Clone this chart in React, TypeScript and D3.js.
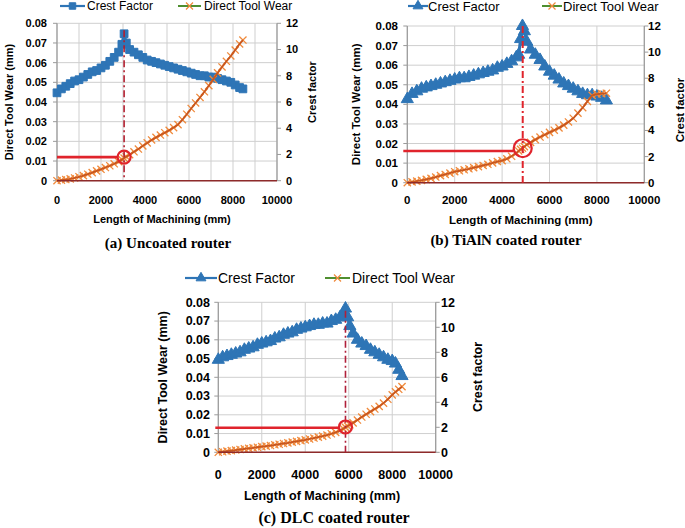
import React, { useEffect, useRef } from "react";
import * as d3 from "d3";

// (a) Uncoated router
const lengthA = [0, 200, 400, 600, 800, 1000, 1200, 1400, 1600, 1800, 2000, 2200, 2400, 2600, 2800, 2950, 3050, 3150, 3300, 3500, 3700, 3900, 4100, 4300, 4500, 4700, 4900, 5100, 5300, 5500, 5700, 5900, 6100, 6300, 6500, 6700, 6900, 7100, 7300, 7500, 7700, 7900, 8100, 8300, 8450];
const crestA = [6.7, 7.0, 7.2, 7.4, 7.6, 7.7, 7.9, 8.1, 8.3, 8.4, 8.6, 8.8, 9.1, 9.4, 9.8, 10.4, 11.2, 10.5, 10.0, 9.8, 9.6, 9.4, 9.2, 9.1, 9.0, 8.9, 8.8, 8.7, 8.6, 8.5, 8.4, 8.3, 8.2, 8.1, 8.0, 8.0, 7.9, 7.9, 7.8, 7.7, 7.6, 7.5, 7.3, 7.1, 7.0];
const wearA = [0, 0.0003, 0.0006, 0.0009, 0.0014, 0.002, 0.0026, 0.0033, 0.0041, 0.005, 0.0058, 0.0067, 0.0076, 0.0086, 0.0097, 0.0107, 0.0115, 0.0122, 0.0132, 0.0147, 0.0161, 0.0177, 0.0192, 0.0207, 0.022, 0.0232, 0.0244, 0.0256, 0.027, 0.0285, 0.031, 0.0338, 0.0367, 0.0395, 0.0423, 0.0452, 0.0483, 0.0515, 0.0548, 0.0578, 0.0607, 0.0634, 0.0664, 0.0695, 0.0715];

// (b) TiAlN coated router
const lengthB = [0, 200, 400, 600, 800, 1000, 1200, 1400, 1600, 1800, 2000, 2200, 2400, 2600, 2800, 3000, 3200, 3400, 3600, 3800, 4000, 4200, 4400, 4600, 4700, 4780, 4860, 4940, 5040, 5200, 5400, 5600, 5800, 6000, 6200, 6400, 6600, 6800, 7000, 7200, 7400, 7600, 7800, 8000, 8200, 8400];
const crestB = [6.4, 6.8, 7.0, 7.2, 7.3, 7.4, 7.5, 7.6, 7.7, 7.8, 7.9, 8.0, 8.0, 8.1, 8.2, 8.3, 8.4, 8.5, 8.6, 8.8, 8.9, 9.1, 9.3, 9.6, 9.8, 11.0, 12.0, 11.6, 10.8, 10.2, 9.8, 9.4, 8.9, 8.5, 8.2, 7.9, 7.6, 7.4, 7.2, 7.0, 6.8, 6.7, 6.7, 6.6, 6.5, 6.3];
const wearB = [0, 0.0004, 0.0008, 0.0012, 0.0017, 0.0022, 0.0029, 0.0036, 0.0042, 0.0049, 0.0056, 0.0061, 0.0066, 0.0071, 0.0077, 0.0082, 0.0088, 0.0094, 0.0101, 0.0108, 0.0113, 0.0122, 0.0135, 0.0152, 0.0162, 0.017, 0.0176, 0.0184, 0.0194, 0.0206, 0.022, 0.0233, 0.0245, 0.0257, 0.0268, 0.028, 0.0294, 0.031, 0.0329, 0.0355, 0.0383, 0.0415, 0.0446, 0.0452, 0.0455, 0.0457];

// (c) DLC coated router
const lengthC = [0, 200, 400, 600, 800, 1000, 1200, 1400, 1600, 1800, 2000, 2200, 2400, 2600, 2800, 3000, 3200, 3400, 3600, 3800, 4000, 4200, 4400, 4600, 4800, 5000, 5200, 5400, 5600, 5750, 5850, 5950, 6050, 6200, 6400, 6600, 6800, 7000, 7200, 7400, 7600, 7800, 8000, 8150, 8300, 8450];
const crestC = [7.4, 7.6, 7.7, 7.8, 7.9, 8.0, 8.2, 8.3, 8.4, 8.6, 8.7, 8.8, 8.9, 9.1, 9.2, 9.4, 9.5, 9.6, 9.8, 9.9, 10.0, 10.1, 10.2, 10.2, 10.3, 10.3, 10.5, 10.6, 10.8, 11.1, 11.5, 10.8, 10.1, 9.5, 9.0, 8.7, 8.5, 8.2, 8.0, 7.8, 7.6, 7.4, 7.3, 7.1, 6.6, 6.1];
const wearC = [0, 0.0003, 0.0006, 0.0009, 0.0012, 0.0015, 0.0018, 0.0021, 0.0024, 0.0027, 0.003, 0.0033, 0.0036, 0.004, 0.0043, 0.0047, 0.005, 0.0054, 0.0058, 0.0062, 0.0066, 0.0071, 0.0076, 0.0081, 0.0086, 0.0092, 0.0099, 0.0106, 0.0116, 0.0126, 0.0133, 0.014, 0.0147, 0.0157, 0.0172, 0.0188, 0.0203, 0.0217, 0.0231, 0.0245, 0.0262, 0.0283, 0.0306, 0.0322, 0.0336, 0.035];

// onset of rapid wear, marked on each panel
const refLength = [3050, 4870, 5850];
const refWear = [0.012, 0.0176, 0.0135];
const refLineWear = [0.012, 0.0162, 0.0131];
const refTop = [0.0765, 0.08, 0.0755];

const wearTicks = [0, 0.01, 0.02, 0.03, 0.04, 0.05, 0.06, 0.07, 0.08];
const crestTicks = [0, 2, 4, 6, 8, 10, 12];
const lengthTicks = [0, 2000, 4000, 6000, 8000, 10000];
const captions = ["(a) Uncoated router", "(b) TiAlN coated router", "(c) DLC coated router"];
const seriesNames = ["Crest Factor", "Direct Tool Wear"];

const BLUE = "#2E75B6";
const ORANGE = "#F08A3C";
const GREEN = "#4F8F2F";
const WEAR_LINE = "#C8561E";
const RED = "#E0242C";
const SANS = "'Liberation Sans', Arial, sans-serif";

interface Layout {
  left: number; right: number; top: number; bottom: number;
  gridStep: number; font: number; legendFont: number;
  legendY: number; legend: number[];
  leftLabelX: number; leftTitleX: number; rightLabelX: number; rightTitleX: number; rightTitleY: number;
  tickY: number; titleY: number; captionY: number; captionX: number; captionFont: number;
  marker: "square" | "triangle"; circleR: number; dashColor: string; lineStart: number;
}

const layouts: Layout[] = [
  {
    left: 57, right: 277, top: 23.3, bottom: 180.7, gridStep: 1000, font: 11, legendFont: 12,
    legendY: 6, legend: [60, 85, 87, 178, 201, 204],
    leftLabelX: 47, leftTitleX: 9, rightLabelX: 286, rightTitleX: 312, rightTitleY: 92,
    tickY: 204, titleY: 223, captionY: 248, captionX: 168, captionFont: 15,
    marker: "square", circleR: 6.5, dashColor: "#B21F2F", lineStart: 0,
  },
  {
    left: 407.3, right: 644.3, top: 26, bottom: 182.7, gridStep: 2000, font: 11.5, legendFont: 13,
    legendY: 6, legend: [408, 428, 428, 542, 562, 563],
    leftLabelX: 398, leftTitleX: 356, rightLabelX: 648, rightTitleX: 680, rightTitleY: 110,
    tickY: 204, titleY: 224, captionY: 245, captionX: 506, captionFont: 15,
    marker: "triangle", circleR: 9, dashColor: RED, lineStart: -4,
  },
  {
    left: 218.3, right: 435.7, top: 302.3, bottom: 452.3, gridStep: 2000, font: 12.5, legendFont: 14,
    legendY: 278, legend: [185, 217, 218, 325, 350, 352],
    leftLabelX: 210, leftTitleX: 163, rightLabelX: 441, rightTitleX: 478, rightTitleY: 377,
    tickY: 479, titleY: 500, captionY: 523, captionX: 334, captionFont: 16,
    marker: "triangle", circleR: 6.5, dashColor: "#B0203A", lineStart: -3,
  },
];

const panels = [
  { length: lengthA, crest: crestA, wear: wearA },
  { length: lengthB, crest: crestB, wear: wearB },
  { length: lengthC, crest: crestC, wear: wearC },
];

const App: React.FC = () => {
  const svgRef = useRef<SVGSVGElement>(null);

  useEffect(() => {
    if (!svgRef.current) return;
    const svg = d3.select(svgRef.current);
    svg.selectAll("*").remove();

    panels.forEach((p, i) => {
      const L = layouts[i];
      const g = svg.append("g");
      const x = d3.scaleLinear().domain([0, 10000]).range([L.left, L.right]);
      const yW = d3.scaleLinear().domain([0, 0.08]).range([L.bottom, L.top]);
      const yC = d3.scaleLinear().domain([0, 12]).range([L.bottom, L.top]);

      // gridlines
      g.selectAll(".vgrid")
        .data(d3.range(0, 10001, L.gridStep))
        .enter()
        .append("line")
        .attr("x1", (d) => x(d)).attr("x2", (d) => x(d))
        .attr("y1", L.top).attr("y2", L.bottom)
        .attr("stroke", "#CFCFCF").attr("stroke-width", 1);
      g.selectAll(".hgrid")
        .data(wearTicks)
        .enter()
        .append("line")
        .attr("x1", L.left).attr("x2", L.right)
        .attr("y1", (d) => yW(d)).attr("y2", (d) => yW(d))
        .attr("stroke", "#CFCFCF").attr("stroke-width", 1);

      // left and right axes
      const axisColor = "#9A9A9A";
      [L.left, L.right].forEach((ax, k) => {
        g.append("line")
          .attr("x1", ax).attr("x2", ax).attr("y1", L.top).attr("y2", L.bottom)
          .attr("stroke", axisColor).attr("stroke-width", 1.2);
        const ticks = k === 0 ? wearTicks.map(yW) : crestTicks.map(yC);
        g.selectAll(null)
          .data(ticks)
          .enter()
          .append("line")
          .attr("x1", ax).attr("x2", k === 0 ? ax - 4 : ax + 4)
          .attr("y1", (d) => d).attr("y2", (d) => d)
          .attr("stroke", axisColor);
      });

      // tick labels
      g.selectAll(null)
        .data(wearTicks)
        .enter()
        .append("text")
        .attr("x", L.leftLabelX).attr("y", (d) => yW(d))
        .attr("dy", "0.35em").attr("text-anchor", "end")
        .style("font-family", SANS).style("font-weight", "bold").style("font-size", `${L.font}px`)
        .text((d) => (d === 0 ? "0" : d.toFixed(2)));
      g.selectAll(null)
        .data(crestTicks)
        .enter()
        .append("text")
        .attr("x", L.rightLabelX).attr("y", (d) => yC(d))
        .attr("dy", "0.35em").attr("text-anchor", "start")
        .style("font-family", SANS).style("font-weight", "bold").style("font-size", `${L.font}px`)
        .text((d) => String(d));
      g.selectAll(null)
        .data(lengthTicks)
        .enter()
        .append("text")
        .attr("x", (d) => x(d)).attr("y", L.tickY)
        .attr("text-anchor", "middle")
        .style("font-family", SANS).style("font-weight", "bold").style("font-size", `${L.font}px`)
        .text((d) => String(d));

      // axis titles
      g.append("text")
        .attr("transform", `translate(${L.leftTitleX},${(L.top + L.bottom) / 2}) rotate(-90)`)
        .attr("dy", "0.35em").attr("text-anchor", "middle")
        .style("font-family", SANS).style("font-weight", "bold").style("font-size", `${L.font}px`)
        .text("Direct Tool Wear (mm)");
      g.append("text")
        .attr("transform", `translate(${L.rightTitleX},${L.rightTitleY}) rotate(-90)`)
        .attr("dy", "0.35em").attr("text-anchor", "middle")
        .style("font-family", SANS).style("font-weight", "bold").style("font-size", `${L.font}px`)
        .text("Crest factor");
      g.append("text")
        .attr("x", (L.left + L.right) / 2 - 5).attr("y", L.titleY)
        .attr("text-anchor", "middle")
        .style("font-family", SANS).style("font-weight", "bold").style("font-size", `${L.font}px`)
        .text("Length of Machining (mm)");
      g.append("text")
        .attr("x", L.captionX).attr("y", L.captionY)
        .attr("text-anchor", "middle")
        .style("font-family", "'Liberation Serif', 'Times New Roman', serif")
        .style("font-weight", "bold").style("font-size", `${L.captionFont}px`)
        .text(captions[i]);

      const markerSym = L.marker === "square" ? d3.symbolSquare : d3.symbolTriangle;
      const crestSymbol = d3.symbol().type(markerSym).size(L.marker === "square" ? 60 : 64);
      const crossPath = (s: number) => `M${-s},${-s}L${s},${s}M${-s},${s}L${s},${-s}`;

      // crest factor series
      const crestPts = p.length.map((l, j) => [x(l), yC(p.crest[j])] as [number, number]);
      g.append("path")
        .attr("d", d3.line()(crestPts))
        .attr("fill", "none").attr("stroke", BLUE).attr("stroke-width", 3);
      g.selectAll(null)
        .data(crestPts)
        .enter()
        .append("path")
        .attr("d", crestSymbol()!)
        .attr("transform", (d) => `translate(${d[0]},${d[1]})`)
        .attr("fill", BLUE).attr("stroke", BLUE).attr("stroke-width", 1);

      // direct tool wear series
      const wearPts = p.length.map((l, j) => [x(l), yW(p.wear[j])] as [number, number]);
      g.selectAll(null)
        .data(wearPts)
        .enter()
        .append("path")
        .attr("d", crossPath(3.6))
        .attr("transform", (d) => `translate(${d[0]},${d[1]})`)
        .attr("fill", "none").attr("stroke", ORANGE).attr("stroke-width", 1.3);
      g.append("path")
        .attr("d", d3.line()(wearPts))
        .attr("fill", "none").attr("stroke", WEAR_LINE).attr("stroke-width", 1.8);

      // bottom axis
      g.append("line")
        .attr("x1", L.left).attr("x2", L.right).attr("y1", L.bottom).attr("y2", L.bottom)
        .attr("stroke", "#8E2A2A").attr("stroke-width", 1.5);

      // reference markings
      const cx = x(refLength[i]);
      const cy = yW(refWear[i]);
      g.append("line")
        .attr("x1", cx).attr("x2", cx)
        .attr("y1", yW(refTop[i])).attr("y2", L.bottom)
        .attr("stroke", L.dashColor).attr("stroke-width", i === 1 ? 2 : 1.6)
        .attr("stroke-dasharray", "7,3,2,3");
      g.append("line")
        .attr("x1", L.left + L.lineStart).attr("x2", cx - L.circleR)
        .attr("y1", yW(refLineWear[i])).attr("y2", yW(refLineWear[i]))
        .attr("stroke", RED).attr("stroke-width", 2.6);
      g.append("circle")
        .attr("cx", cx).attr("cy", cy).attr("r", L.circleR)
        .attr("fill", "none").attr("stroke", RED).attr("stroke-width", 2.2);

      // legend
      const [l0, l1, t0, m0, m1, t1] = L.legend;
      const ly = L.legendY;
      g.append("line").attr("x1", l0).attr("x2", l1).attr("y1", ly).attr("y2", ly)
        .attr("stroke", BLUE).attr("stroke-width", 2.2);
      g.append("path").attr("d", d3.symbol().type(markerSym).size(42)()!)
        .attr("transform", `translate(${(l0 + l1) / 2},${ly})`)
        .attr("fill", BLUE).attr("stroke", BLUE);
      g.append("text").attr("x", t0).attr("y", ly).attr("dy", "0.35em")
        .style("font-family", SANS).style("font-size", `${L.legendFont}px`)
        .text(seriesNames[0]);
      g.append("line").attr("x1", m0).attr("x2", m1).attr("y1", ly).attr("y2", ly)
        .attr("stroke", GREEN).attr("stroke-width", 2);
      g.append("path").attr("d", crossPath(3.5))
        .attr("transform", `translate(${(m0 + m1) / 2},${ly})`)
        .attr("fill", "none").attr("stroke", ORANGE).attr("stroke-width", 1.2);
      g.append("text").attr("x", t1).attr("y", ly).attr("dy", "0.35em")
        .style("font-family", SANS).style("font-size", `${L.legendFont}px`)
        .text(seriesNames[1]);
    });
  }, []);

  return (
    <svg
      ref={svgRef}
      width={685}
      height={528}
      style={{ position: "absolute", left: 0, top: 0, background: "#fff" }}
    />
  );
};

export default App;
